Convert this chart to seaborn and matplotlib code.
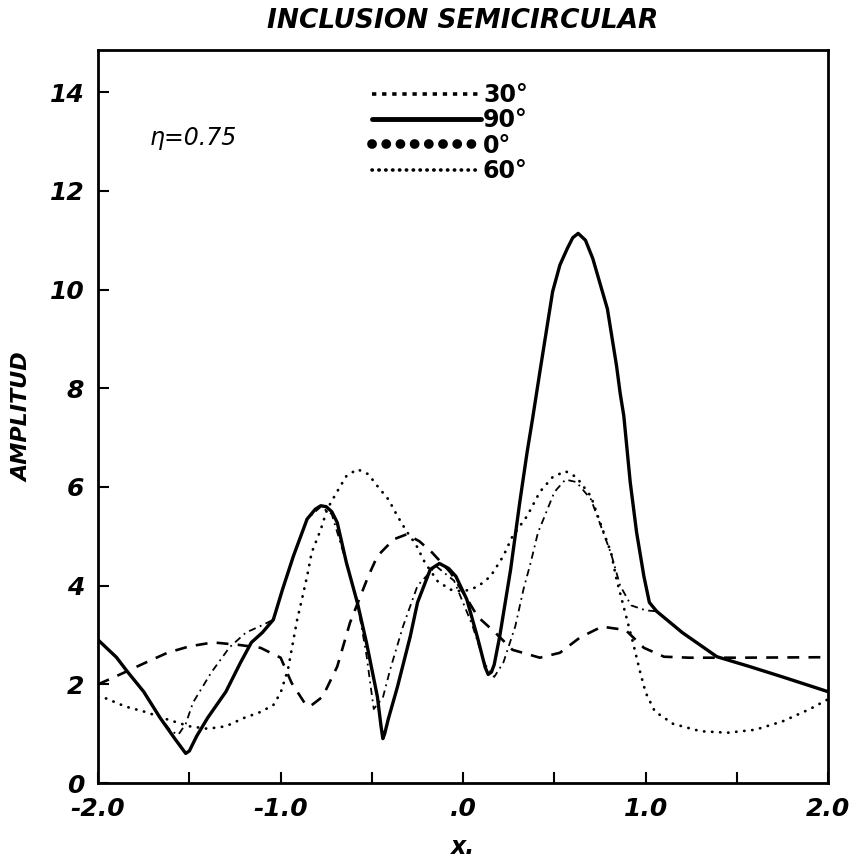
import numpy as np
import pandas as pd
import matplotlib
matplotlib.use('Agg')
import matplotlib.pyplot as plt
from matplotlib.lines import Line2D
import seaborn as sns

sns.set_style('white')
plt.rcParams['font.family'] = ['DejaVu Sans']
plt.rcParams['text.color'] = 'k'
plt.rcParams['axes.labelcolor'] = 'k'
plt.rcParams['xtick.color'] = 'k'
plt.rcParams['ytick.color'] = 'k'

# curves
x_90 = [-2.0, -1.9, -1.84, -1.75, -1.66, -1.58, -1.54, -1.52, -1.50, -1.46, -1.40, -1.30, -1.22,
        -1.16, -1.10, -1.04, -0.99, -0.93, -0.855, -0.81, -0.78, -0.75, -0.72, -0.69, -0.64, -0.58,
        -0.53, -0.47, -0.45, -0.44, -0.43, -0.41, -0.36, -0.29, -0.25, -0.18, -0.13, -0.08, -0.04,
        0.02, 0.077, 0.12, 0.137, 0.155, 0.17, 0.2, 0.26, 0.31, 0.35, 0.38, 0.42, 0.49, 0.53, 0.57,
        0.60, 0.63, 0.67, 0.71, 0.79, 0.84, 0.86, 0.88, 0.915, 0.95, 0.99, 1.02, 1.06, 1.2, 1.39,
        1.57, 1.75, 2.0]
y_90 = [2.9, 2.55, 2.26, 1.85, 1.32, 0.9, 0.7, 0.6, 0.65, 0.95, 1.32, 1.85, 2.44,
        2.85, 3.05, 3.31, 3.92, 4.6, 5.35, 5.55, 5.62, 5.6, 5.5, 5.28, 4.47, 3.66,
        2.85, 1.75, 1.15, 0.9, 1.0, 1.3, 1.95, 2.97, 3.66, 4.33, 4.45, 4.35, 4.19,
        3.72, 2.97, 2.35, 2.2, 2.25, 2.4, 2.97, 4.33, 5.69, 6.7, 7.38, 8.33, 9.96, 10.5, 10.83,
        11.05, 11.14, 11.0, 10.63, 9.61, 8.46, 7.9, 7.44, 6.1, 5.08, 4.19, 3.66, 3.48, 3.05, 2.56,
        2.36, 2.15, 1.85]

x_30 = [-2.0, -1.88, -1.74, -1.62, -1.5, -1.37, -1.23, -1.11, -1.0, -0.94, -0.87, -0.84, -0.77,
        -0.69, -0.62, -0.52, -0.47, -0.38, -0.31, -0.24, -0.17, -0.07, 0.0, 0.08, 0.175, 0.27,
        0.42, 0.53, 0.64, 0.76, 0.89, 0.99, 1.1, 1.24, 1.5, 2.0]
y_30 = [2.0, 2.2, 2.44, 2.64, 2.77, 2.85, 2.8, 2.74, 2.54, 2.03, 1.63, 1.55, 1.75,
        2.36, 3.25, 4.19, 4.6, 4.94, 5.04, 4.9, 4.67, 4.27, 3.86, 3.37, 3.05, 2.7,
        2.54, 2.64, 2.95, 3.17, 3.1, 2.74, 2.56, 2.54, 2.54, 2.55]

x_0 = [-2.0, -1.9, -1.84, -1.75, -1.66, -1.6, -1.56, -1.52, -1.48, -1.38, -1.28, -1.19, -1.1,
       -1.04, -0.99, -0.93, -0.855, -0.78, -0.72, -0.64, -0.58, -0.53, -0.49, -0.44, -0.40, -0.33,
       -0.25, -0.15, -0.05, 0.05, 0.12, 0.17, 0.22, 0.285, 0.33, 0.37, 0.41, 0.44, 0.5, 0.56,
       0.62, 0.7, 0.75, 0.81, 0.86, 0.92, 1.0, 1.06, 1.2, 1.39, 1.57, 1.75, 2.0]
y_0 = [2.9, 2.55, 2.26, 1.85, 1.32, 1.05, 0.98, 1.2, 1.63, 2.24, 2.75, 3.05, 3.2,
       3.31, 3.92, 4.6, 5.35, 5.6, 5.45, 4.47, 3.66, 2.6, 1.5, 1.73, 2.3, 3.17,
       4.0, 4.4, 4.1, 3.2, 2.4, 2.15, 2.44, 3.17, 3.92, 4.47, 5.08, 5.35, 5.9, 6.15,
       6.1, 5.75, 5.25, 4.65, 4.0, 3.6, 3.5, 3.48, 3.05, 2.56, 2.36, 2.15, 1.85]

x_60 = [-2.0, -1.96, -1.85, -1.74, -1.63, -1.5, -1.4, -1.3, -1.2, -1.11, -1.04, -1.0, -0.96,
        -0.94, -0.91, -0.88, -0.855, -0.83, -0.78, -0.745, -0.69, -0.64, -0.58, -0.52, -0.47,
        -0.41, -0.36, -0.31, -0.26, -0.21, -0.14, -0.07, 0.0, 0.08, 0.15, 0.22, 0.27, 0.35, 0.42,
        0.49, 0.56, 0.62, 0.70, 0.75, 0.81, 0.84, 0.88, 0.93, 0.97, 1.0, 1.05, 1.15, 1.3, 1.45,
        1.6, 1.75, 1.9, 2.0]
y_60 = [1.75, 1.72, 1.55, 1.44, 1.3, 1.15, 1.1, 1.15, 1.32, 1.44, 1.58, 1.83, 2.3,
        2.7, 3.3, 3.78, 4.19, 4.67, 5.14, 5.55, 5.91, 6.22, 6.36, 6.26, 6.02,
        5.75, 5.41, 5.1, 4.84, 4.47, 4.09, 3.92, 3.88, 3.98, 4.19, 4.6, 5.0, 5.41, 5.9,
        6.2, 6.32, 6.2, 5.81, 5.28, 4.67, 4.13, 3.56, 2.85, 2.24, 1.83, 1.45, 1.2, 1.05, 1.02,
        1.08, 1.25, 1.5, 1.7]

legend_labels = ['30°', '90°', '0°', '60°']
x_ticks = [-2, -1, 0, 1, 2]
x_ticklabels = ['-2.0', '-1.0', '.0', '1.0', '2.0']
y_ticks = [0, 2, 4, 6, 8, 10, 12, 14]

fig = plt.figure(figsize=(8.53, 8.6), dpi=100)
ax = fig.add_axes([0.115, 0.0895, 0.856, 0.852])

sns.lineplot(x=x_60, y=y_60, ax=ax, color='k', lw=2.0, estimator=None, sort=False,
             linestyle=(0, (0.1, 2.8)), dash_capstyle='round')
sns.lineplot(x=x_30, y=y_30, ax=ax, color='k', lw=1.9, estimator=None, sort=False,
             linestyle=(0, (4.5, 3.5)))
sns.lineplot(x=x_90, y=y_90, ax=ax, color='k', lw=2.4, estimator=None, sort=False)
sns.lineplot(x=x_0, y=y_0, ax=ax, color='k', lw=1.3, estimator=None, sort=False,
             linestyle=(0, (4, 2.5, 1, 2.5)))

ax.set_xlim(-2, 2)
ax.set_ylim(0, 14.85)
ax.set_xticks(x_ticks)
ax.set_xticks([-1.5, -0.5, 0.5, 1.5], minor=True)
ax.set_xticklabels(x_ticklabels)
ax.set_yticks(y_ticks)
ax.tick_params(which='both', direction='in', length=8, width=1.5, color='k',
               bottom=True, left=True, top=False, right=False, pad=10)
for lab in ax.get_xticklabels() + ax.get_yticklabels():
    lab.set_fontsize(18)
    lab.set_fontweight('bold')
    lab.set_fontstyle('italic')
    lab.set_color('k')
for s in ax.spines.values():
    s.set_color('k')
    s.set_linewidth(2)

ax.set_xlabel('x.', fontsize=17, fontweight='bold', fontstyle='italic', labelpad=10)
ax.set_ylabel('AMPLITUD', fontsize=16, fontweight='bold', fontstyle='italic', labelpad=12)
fig.text(0.542, 0.975, 'INCLUSION SEMICIRCULAR', ha='center', va='center', fontsize=19,
         fontweight='bold', fontstyle='italic', color='k')
ax.text(0.07, 0.88, 'η=0.75', transform=ax.transAxes, fontsize=17, fontstyle='italic',
        va='center', ha='left', color='k')

handles = [
    Line2D([], [], color='k', lw=2.6, linestyle=(0, (1.2, 1.6))),
    Line2D([], [], color='k', lw=3.5),
    Line2D([], [], color='k', lw=7, linestyle=(0, (0.01, 1.45)), dash_capstyle='round'),
    Line2D([], [], color='k', lw=2.6, linestyle=(0, (0.1, 1.8)), dash_capstyle='round'),
]
leg = ax.legend(handles, legend_labels, loc='upper left', bbox_to_anchor=(0.375, 0.955),
                frameon=False, handlelength=4.6, handletextpad=0.1, labelspacing=0.05,
                borderpad=0, borderaxespad=0,
                prop={'size': 17, 'weight': 'bold'})
for t in leg.get_texts():
    t.set_color('k')

plt.savefig('out.png', dpi=100)
